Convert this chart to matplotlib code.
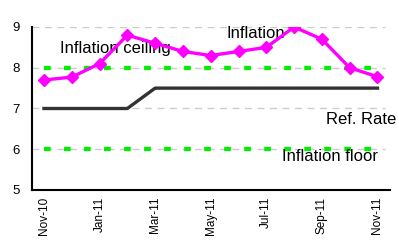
import matplotlib
matplotlib.use("Agg")
import matplotlib.pyplot as plt

months = ["Nov-10", "Dec-10", "Jan-11", "Feb-11", "Mar-11", "Apr-11", "May-11",
          "Jun-11", "Jul-11", "Aug-11", "Sep-11", "Oct-11", "Nov-11"]
inflation = [7.7, 7.77, 8.1, 8.8, 8.6, 8.4, 8.3, 8.4, 8.5, 9.0, 8.7, 8.0, 7.78]
ref_rate = [7.0, 7.0, 7.0, 7.0, 7.5, 7.5, 7.5, 7.5, 7.5, 7.5, 7.5, 7.5, 7.5]
ceiling = [8.0] * 13
floor_ = [6.0] * 13
tick_labels = ["Nov-10", "Jan-11", "Mar-11", "May-11", "Jul-11", "Sep-11", "Nov-11"]

plt.rcParams['font.family'] = ['Liberation Sans', 'DejaVu Sans']
fig = plt.figure(figsize=(3.99, 2.40), dpi=100)
ax = fig.add_axes([32/399, 50/240, 358/399, 163/240])
x = list(range(len(months)))

for yv in [5, 6, 7, 8, 9]:
    ax.axhline(yv, color="#cccccc", lw=1, ls=(0, (5, 4)), zorder=0, xmax=0.985)

ax.plot(x, ceiling, color="#00ee00", lw=3.1, ls=(0, (1.55, 3.1)), zorder=2, dash_capstyle="butt")
ax.plot(x, floor_, color="#00ee00", lw=3.1, ls=(0, (1.55, 3.1)), zorder=2, dash_capstyle="butt")
ax.plot(x, ref_rate, color="#333333", lw=2.4, zorder=3)
ax.plot(x, inflation, color="#ff00ff", lw=2.4, marker="D", ms=6.5, zorder=4)

ax.set_xlim(-0.43, 12.45)
ax.set_ylim(5, 9)
ax.set_yticks([5, 6, 7, 8, 9])
ax.set_xticks([0, 2, 4, 6, 8, 10, 12])
ax.set_xticklabels(tick_labels, rotation=90, fontsize=8.5)
ax.tick_params(axis="y", labelsize=9.5, length=0, pad=9)
ax.tick_params(axis="x", length=0, pad=5)
for s in ["top", "right"]:
    ax.spines[s].set_visible(False)
ax.spines["left"].set_linewidth(1.5)
ax.spines["bottom"].set_linewidth(1.5)

fs = 12
ax.text(0.58, 8.48, "Inflation ceiling", fontsize=fs, va="center", ha="left")
ax.text(6.56, 8.85, "Inflation", fontsize=fs, va="center", ha="left")
ax.text(10.13, 6.74, "Ref. Rate", fontsize=fs, va="center", ha="left")
ax.text(8.58, 5.81, "Inflation floor", fontsize=fs, va="center", ha="left")

fig.savefig("out.png", dpi=100)
